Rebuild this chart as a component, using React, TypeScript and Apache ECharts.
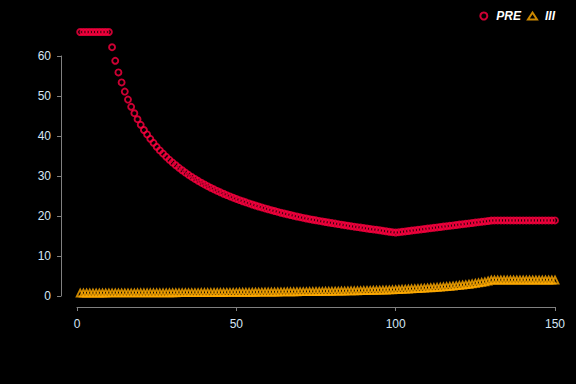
import React, { useEffect, useRef } from "react";
import * as echarts from "echarts";

const xValues: number[] = Array.from({ length: 150 }, (_, i) => i + 1);

const preValues: number[] = [
  66, 66, 66, 66, 66, 66, 66, 66, 66, 66,
  62.2, 58.8, 55.9, 53.4, 51.1, 49.1, 47.3, 45.7, 44.2, 42.8,
  41.5, 40.4, 39.3, 38.3, 37.3, 36.4, 35.6, 34.8, 34.05, 33.35,
  32.68, 32.04, 31.43, 30.85, 30.3, 29.78, 29.27, 28.79, 28.33, 27.89,
  27.46, 27.05, 26.66, 26.28, 25.92, 25.57, 25.22, 24.9, 24.58, 24.27,
  23.97, 23.69, 23.41, 23.14, 22.88, 22.63, 22.38, 22.14, 21.9, 21.67,
  21.45, 21.24, 21.03, 20.82, 20.62, 20.43, 20.24, 20.05, 19.87, 19.7,
  19.53, 19.37, 19.21, 19.06, 18.92, 18.78, 18.64, 18.5, 18.36, 18.23,
  18.1, 17.97, 17.84, 17.71, 17.58, 17.46, 17.34, 17.22, 17.1, 16.98,
  16.87, 16.76, 16.65, 16.54, 16.43, 16.3, 16.18, 16.06, 15.95, 15.85,
  15.95, 16.05, 16.15, 16.25, 16.35, 16.45, 16.55, 16.65, 16.75, 16.85,
  16.95, 17.05, 17.15, 17.25, 17.35, 17.45, 17.55, 17.65, 17.75, 17.85,
  17.95, 18.05, 18.15, 18.25, 18.35, 18.45, 18.55, 18.65, 18.75, 18.85,
  18.9, 18.9, 18.9, 18.9, 18.9, 18.9, 18.9, 18.9, 18.9, 18.9,
  18.9, 18.9, 18.9, 18.9, 18.9, 18.9, 18.9, 18.9, 18.9, 18.9,
];

const iiiValues: number[] = [
  0.75, 0.75, 0.75, 0.75, 0.75, 0.75, 0.75, 0.75, 0.75, 0.76,
  0.76, 0.76, 0.76, 0.76, 0.77, 0.77, 0.77, 0.77, 0.78, 0.78,
  0.78, 0.78, 0.79, 0.79, 0.79, 0.8, 0.8, 0.8, 0.81, 0.81,
  0.81, 0.82, 0.82, 0.82, 0.83, 0.83, 0.84, 0.84, 0.85, 0.85,
  0.86, 0.86, 0.87, 0.87, 0.88, 0.88, 0.89, 0.89, 0.9, 0.9,
  0.91, 0.92, 0.92, 0.93, 0.94, 0.94, 0.95, 0.96, 0.97, 0.97,
  0.98, 0.99, 1.0, 1.01, 1.02, 1.03, 1.04, 1.05, 1.06, 1.07,
  1.08, 1.09, 1.1, 1.11, 1.12, 1.13, 1.14, 1.16, 1.17, 1.18,
  1.2, 1.21, 1.23, 1.24, 1.26, 1.28, 1.29, 1.31, 1.33, 1.35,
  1.37, 1.39, 1.41, 1.43, 1.45, 1.47, 1.5, 1.52, 1.55, 1.58,
  1.62, 1.66, 1.7, 1.74, 1.78, 1.82, 1.86, 1.91, 1.96, 2.01,
  2.06, 2.11, 2.17, 2.23, 2.29, 2.36, 2.43, 2.5, 2.58, 2.66,
  2.75, 2.84, 2.94, 3.05, 3.16, 3.28, 3.41, 3.55, 3.75, 4.0,
  4.0, 4.0, 4.0, 4.0, 4.0, 4.0, 4.0, 4.0, 4.0, 4.0,
  4.0, 4.0, 4.0, 4.0, 4.0, 4.0, 4.0, 4.0, 4.0, 4.0,
];

const seriesNames = ["PRE", "III"];
const xTicks = { min: 0, max: 150, interval: 50 };
const yTicks = { min: 0, max: 60, interval: 10 };

const RED = "#ff0040";
const ORANGE = "#ffaa00";
const LABEL = "#d6e6f5";
const AXIS = "#808080";
const FONT = "'Liberation Sans', Arial, sans-serif";

export default function App() {
  const ref = useRef<HTMLDivElement>(null);
  useEffect(() => {
    if (!ref.current) return;
    const chart = echarts.init(ref.current, undefined, { renderer: "svg" });
    chart.setOption({
      animation: false,
      backgroundColor: "#000000",
      textStyle: { fontFamily: FONT },
      grid: { left: 77, right: 21, top: 56, bottom: 88, containLabel: false },
      legend: {
        right: 16,
        top: 5,
        itemWidth: 9,
        itemHeight: 7,
        itemGap: 6,
        data: [
          { name: seriesNames[0], icon: "circle" },
          { name: seriesNames[1], icon: "triangle" },
        ],
        textStyle: {
          color: "#ffffff",
          fontSize: 12,
          fontWeight: "bold",
          fontStyle: "italic",
          fontFamily: FONT,
          padding: [0, 0, 0, 3],
        },
      },
      xAxis: {
        type: "value",
        min: xTicks.min,
        max: xTicks.max,
        interval: xTicks.interval,
        offset: 11,
        splitLine: { show: false },
        axisLine: { show: true, onZero: false, lineStyle: { color: AXIS, width: 1 } },
        axisTick: { show: true, length: 4, lineStyle: { color: AXIS } },
        axisLabel: { color: LABEL, fontSize: 12, margin: 11, fontFamily: FONT },
      },
      yAxis: {
        type: "value",
        min: yTicks.min,
        max: yTicks.max,
        interval: yTicks.interval,
        offset: 16,
        splitLine: { show: false },
        axisLine: { show: true, onZero: false, lineStyle: { color: AXIS, width: 1 } },
        axisTick: { show: true, length: 4, lineStyle: { color: AXIS } },
        axisLabel: { color: LABEL, fontSize: 12, margin: 10, fontFamily: FONT },
      },
      series: [
        {
          name: seriesNames[0],
          type: "scatter",
          clip: false,
          symbol: "circle",
          symbolSize: 6,
          itemStyle: { color: "rgba(0,0,0,0)", borderColor: RED, borderWidth: 1.9 },
          data: xValues.map((x, i) => [x, preValues[i]]),
        },
        {
          name: seriesNames[1],
          type: "scatter",
          clip: false,
          symbol: "triangle",
          symbolSize: 7,
          itemStyle: { color: "rgba(0,0,0,0)", borderColor: ORANGE, borderWidth: 1.8 },
          data: xValues.map((x, i) => [x, iiiValues[i]]),
        },
      ],
    });
    return () => chart.dispose();
  }, []);
  return (
    <div
      ref={ref}
      style={{ position: "fixed", left: 0, top: 0, width: 576, height: 384, background: "#000" }}
    />
  );
}
